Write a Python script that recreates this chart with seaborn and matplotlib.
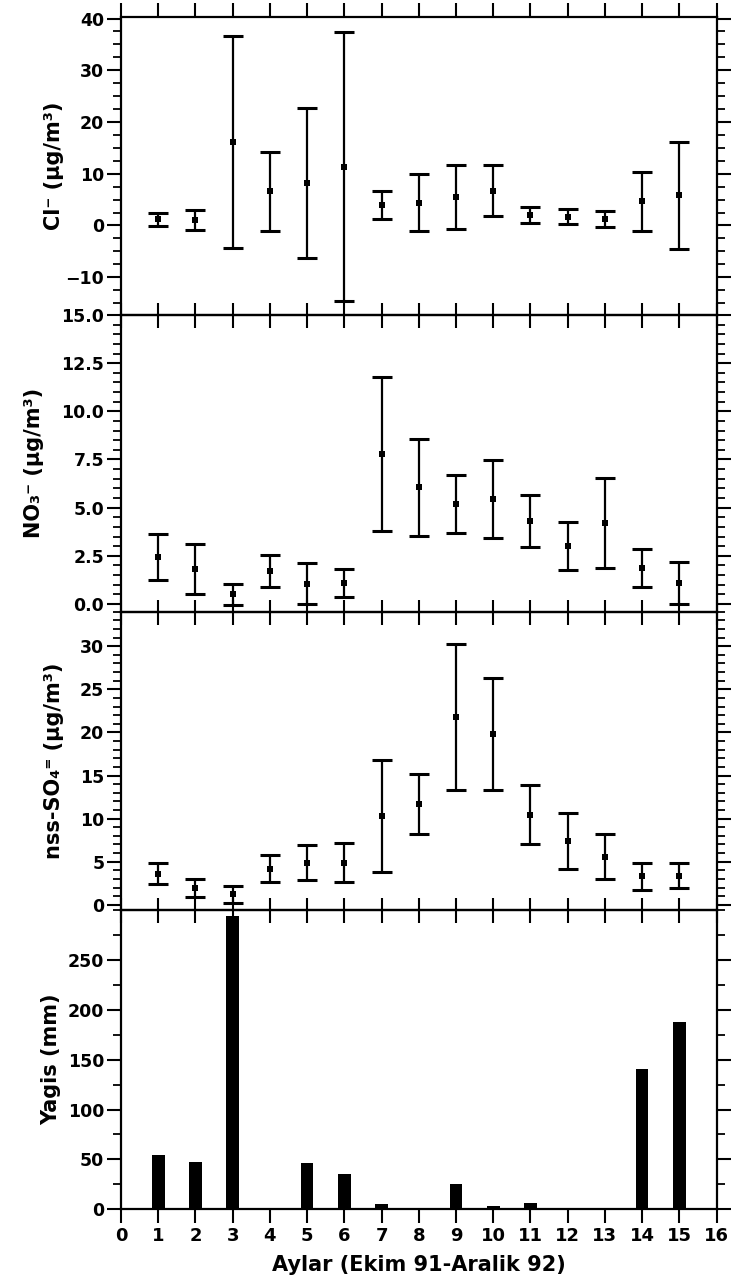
import numpy as np
import pandas as pd
import matplotlib
matplotlib.use("Agg")
import matplotlib.pyplot as plt
from matplotlib.ticker import MultipleLocator, FormatStrFormatter
import seaborn as sns

sns.set_theme(style="white")
plt.rcParams['font.family'] = ['DejaVu Sans']
plt.rcParams['font.weight'] = 'bold'
plt.rcParams['text.color'] = 'black'
plt.rcParams['axes.labelcolor'] = 'black'
plt.rcParams['xtick.color'] = 'black'
plt.rcParams['ytick.color'] = 'black'

# ---- data ----
months = [1, 2, 3, 4, 5, 6, 7, 8, 9, 10, 11, 12, 13, 14, 15]

cl_mean = [1.2, 1.1, 16.2, 6.6, 8.2, 11.4, 4.0, 4.4, 5.5, 6.7, 2.0, 1.7, 1.3, 4.7, 5.8]
cl_sd = [1.3, 1.9, 20.5, 7.7, 14.5, 26.0, 2.7, 5.5, 6.1, 4.9, 1.5, 1.4, 1.5, 5.7, 10.4]

no3_mean = [2.45, 1.8, 0.5, 1.7, 1.05, 1.1, 7.8, 6.05, 5.2, 5.45, 4.3, 3.0, 4.2, 1.85, 1.08]
no3_sd = [1.2, 1.3, 0.55, 0.84, 1.07, 0.72, 4.0, 2.5, 1.5, 2.0, 1.35, 1.25, 2.35, 0.98, 1.08]

so4_mean = [3.6, 1.95, 1.2, 4.2, 4.9, 4.9, 10.3, 11.7, 21.8, 19.85, 10.45, 7.4, 5.6, 3.3, 3.4]
so4_sd = [1.2, 1.1, 1.0, 1.6, 2.05, 2.3, 6.5, 3.5, 8.5, 6.5, 3.4, 3.3, 2.65, 1.6, 1.45]

rain = [54, 47.5, 294, 0, 46, 35, 5, 0, 25, 3, 6, 0, 0, 141, 187.5]

xticks = list(range(0, 17))
xlabel = "Aylar (Ekim 91-Aralik 92)"
ylabels = ["Cl\u207b (\u00b5g/m\u00b3)", "NO\u2083\u207b (\u00b5g/m\u00b3)",
           "nss-SO\u2084\u207c (\u00b5g/m\u00b3)", "Yagis (mm)"]

# ---- figure ----
fig = plt.figure(figsize=(7.31, 12.87), dpi=100)
L, R = 121 / 731, 716.5 / 731
edges_px = [17, 315, 611.7, 910, 1209.3]
axes = []
for i in range(4):
    top = 1 - edges_px[i] / 1287
    bot = 1 - edges_px[i + 1] / 1287
    axes.append(fig.add_axes([L, bot, R - L, top - bot]))

ax1, ax2, ax3, ax4 = axes
series = [(cl_mean, cl_sd), (no3_mean, no3_sd), (so4_mean, so4_sd)]
for ax, (m, s) in zip(axes[:3], series):
    df = pd.DataFrame({"x": months, "y": m})
    ax.errorbar(months, m, yerr=s, fmt='none', ecolor='black', elinewidth=1.6,
                capsize=7.5, capthick=2.2, zorder=2)
    sns.scatterplot(data=df, x="x", y="y", marker='s', color='black', s=22,
                    edgecolor='black', linewidth=0, ax=ax, zorder=3)

dfr = pd.DataFrame({"x": months, "y": rain})
sns.barplot(data=dfr, x="x", y="y", native_scale=True, width=0.34,
            color='black', edgecolor='black', linewidth=0, ax=ax4)

ax1.set_ylim(-17.3, 40.3)
ax1.yaxis.set_minor_locator(MultipleLocator(2.5))
ax1.set_yticks([-10, 0, 10, 20, 30, 40])

ax2.set_ylim(-0.4, 15)
ax2.set_yticks([0, 2.5, 5, 7.5, 10, 12.5, 15])
ax2.yaxis.set_minor_locator(MultipleLocator(0.5))
ax2.yaxis.set_major_formatter(FormatStrFormatter('%.1f'))

ax3.set_ylim(-0.6, 34)
ax3.set_yticks([0, 5, 10, 15, 20, 25, 30])
ax3.yaxis.set_minor_locator(MultipleLocator(1))

ax4.set_ylim(0, 300)
ax4.set_yticks([0, 50, 100, 150, 200, 250])
ax4.yaxis.set_minor_locator(MultipleLocator(25))

for i, ax in enumerate(axes):
    ax.set_xlim(0, 16)
    ax.set_xticks(xticks)
    ax.set_facecolor('none')
    for sp in ax.spines.values():
        sp.set_visible(True)
        sp.set_color('black')
        sp.set_linewidth(1.6)
    ax.tick_params(axis='y', which='major', direction='out', length=10, width=1.5,
                   left=True, right=True, labelsize=12.5, colors='black', pad=2)
    ax.tick_params(axis='y', which='minor', direction='out', length=6, width=1.3,
                   left=True, right=True)
    ax.set_ylabel(ylabels[i], fontsize=15, fontweight='bold', color='black')
    ax.set_xlabel("")
    ax.grid(False)

ax1.tick_params(axis='x', which='major', direction='out', length=10, width=1.5,
                top=True, bottom=False, labeltop=False, labelbottom=False)
ax2.tick_params(axis='x', which='major', direction='inout', length=18, width=1.5,
                top=True, bottom=False, labeltop=False, labelbottom=False)
ax3.tick_params(axis='x', which='major', direction='inout', length=18, width=1.5,
                top=True, bottom=True, labeltop=False, labelbottom=False)
ax4.tick_params(axis='x', which='major', direction='out', length=10, width=1.5,
                top=False, bottom=True, labelbottom=True, labelsize=13, pad=3,
                colors='black')
ax4.set_xticklabels([str(t) for t in xticks])
for lab in ax4.get_xticklabels() + [t for a in axes for t in a.get_yticklabels()]:
    lab.set_fontweight('bold')
ax4.set_xlabel(xlabel, fontsize=15, fontweight='bold', labelpad=7, color='black')

ax1.yaxis.set_label_coords(-0.095, 0.5)
ax2.yaxis.set_label_coords(-0.13, 0.5)
ax3.yaxis.set_label_coords(-0.095, 0.5)
ax4.yaxis.set_label_coords(-0.10, 0.5)

fig.savefig("out.png", dpi=100)
